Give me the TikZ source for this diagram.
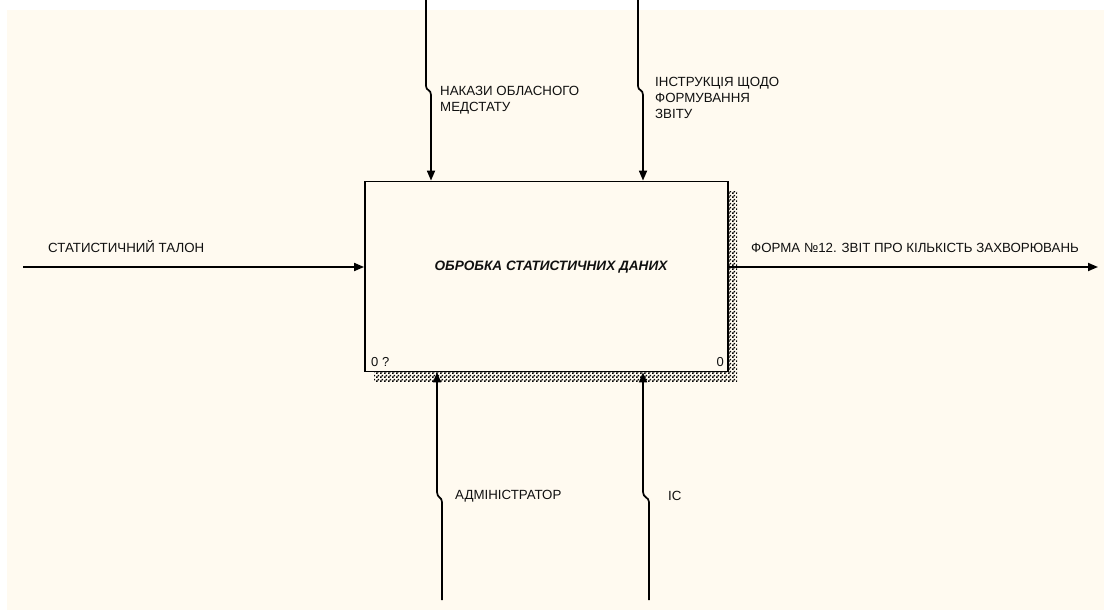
\documentclass[tikz,border=0pt]{standalone}
\usepackage{fontspec}
\setmainfont{Liberation Sans}
\usetikzlibrary{arrows.meta,patterns}
\definecolor{paper}{HTML}{FFFAF0}
\definecolor{ink}{HTML}{101010}
\pgfdeclarepatternformonly{shadowdots}{\pgfpointorigin}{\pgfpoint{4pt}{4pt}}{\pgfpoint{4pt}{4pt}}{%
  \pgfpathrectangle{\pgfpointorigin}{\pgfpoint{1.9pt}{1.9pt}}%
  \pgfpathrectangle{\pgfpoint{2pt}{2pt}}{\pgfpoint{1.9pt}{1.9pt}}%
  \pgfusepath{fill}}

\begin{document}
\begin{tikzpicture}[x=1pt,y=-1pt]
\tikzset{
  idefbox/.style={draw=black,line width=1.8pt,fill=paper,minimum width=363pt,minimum height=190pt,inner sep=0pt},
  idefshadow/.style={pattern=shadowdots,pattern color=black},
  idefedge/.style={draw=black,line width=1.7pt,line join=round},
  feed/.style={idefedge,-{Triangle[length=10pt,width=8pt]}},
  arrowlabel/.style={font=\fontsize{13.3}{16}\selectfont,text=ink,align=left,inner sep=0pt,anchor=west},
  boxtitle/.style={font=\fontsize{13.6}{15}\selectfont\bfseries\itshape,text=ink,inner sep=0pt},
  cornerlabel/.style={font=\fontsize{13}{15}\selectfont,text=ink,inner sep=0pt}
}
\useasboundingbox (0,0) rectangle (1104,610);
\fill[white] (0,0) rectangle (1104,610);
\fill[paper] (7,10) rectangle (1104,610);
% activity box with its shadow
\fill[idefshadow] (374,191) rectangle (737,381);
\node[idefbox] (n_box) at (546.5,276.5) {};
\node[boxtitle] (n_title) at (551,267) {ОБРОБКА СТАТИСТИЧНИХ ДАНИХ};
\node[cornerlabel,anchor=west] (n_num) at (371,362) {0 ?};
\node[cornerlabel,anchor=east] (n_node) at (724,362) {0};
% free ends
\coordinate (c_in) at (23,267);
\coordinate (c_out) at (1098,267);
\coordinate (c_ctl1) at (426,0);
\coordinate (c_ctl2) at (638,0);
\coordinate (c_mech1) at (442,600);
\coordinate (c_mech2) at (649,600);
\coordinate (k_ctl1) at (431,95);
\coordinate (k_ctl2) at (643,95);
\coordinate (k_mech1) at (437,492);
\coordinate (k_mech2) at (643,492);
% input and output
\draw[feed] (c_in) -- (c_in -| n_box.west);
\draw[feed] (c_out -| n_box.east) -- (c_out);
% controls
\draw[feed] (c_ctl1) -- (426,86) .. controls (426,91) and (431,89) .. (k_ctl1) -- (k_ctl1 |- n_box.north);
\draw[feed] (c_ctl2) -- (638,86) .. controls (638,91) and (643,89) .. (k_ctl2) -- (k_ctl2 |- n_box.north);
% mechanisms
\draw[feed] (c_mech1) -- (442,502) .. controls (442,497) and (437,498) .. (k_mech1) -- (k_mech1 |- n_box.south);
\draw[feed] (c_mech2) -- (649,502) .. controls (649,497) and (643,498) .. (k_mech2) -- (k_mech2 |- n_box.south);
% labels
\node[arrowlabel] (l_in) at (48,247) {СТАТИСТИЧНИЙ ТАЛОН};
\node[arrowlabel] (l_out) at (751,248) {ФОРМА №12. ЗВІТ ПРО КІЛЬКІСТЬ ЗАХВОРЮВАНЬ};
\node[arrowlabel,anchor=north west] (l_ctl1) at (440,86) {НАКАЗИ ОБЛАСНОГО\\МЕДСТАТУ};
\node[arrowlabel,anchor=north west] (l_ctl2) at (655,77) {ІНСТРУКЦІЯ ЩОДО\\ФОРМУВАННЯ\\ЗВІТУ};
\node[arrowlabel] (l_mech1) at (455,496) {АДМІНІСТРАТОР};
\node[arrowlabel] (l_mech2) at (668,496) {ІС};
\end{tikzpicture}
\end{document}
